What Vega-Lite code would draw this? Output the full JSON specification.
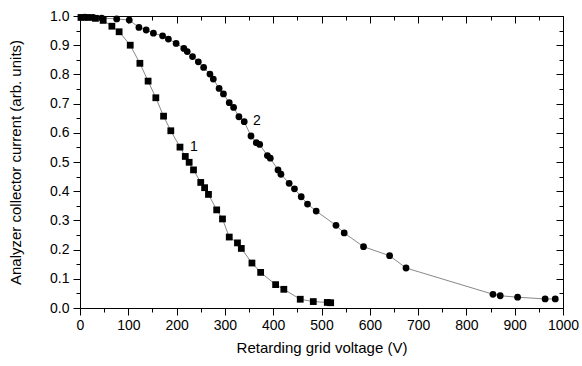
{
  "$schema": "https://vega.github.io/schema/vega-lite/v6.json",
  "autosize": "none",
  "width": 483,
  "height": 292,
  "padding": {"left": 80, "top": 16, "right": 19, "bottom": 58},
  "background": "white",
  "config": {
    "view": {"stroke": null},
    "font": "Liberation Sans",
    "axis": {"grid": false, "domainColor": "black", "tickColor": "black", "labelColor": "black", "titleColor": "black", "labelFont": "Liberation Sans", "titleFont": "Liberation Sans", "labelFontSize": 14, "titleFontSize": 15, "titleFontWeight": "normal", "labelFlush": false, "labelOverlap": false, "domainWidth": 1, "tickWidth": 1}
  },
  "datasets": {
    "curves": [
      {"series": "1", "V": 2, "I": 0.995},
      {"series": "1", "V": 17, "I": 0.995},
      {"series": "1", "V": 32, "I": 0.992},
      {"series": "1", "V": 48, "I": 0.985},
      {"series": "1", "V": 66, "I": 0.965},
      {"series": "1", "V": 81, "I": 0.946},
      {"series": "1", "V": 104, "I": 0.9},
      {"series": "1", "V": 124, "I": 0.838},
      {"series": "1", "V": 141, "I": 0.777},
      {"series": "1", "V": 157, "I": 0.72},
      {"series": "1", "V": 173, "I": 0.657},
      {"series": "1", "V": 188, "I": 0.607},
      {"series": "1", "V": 207, "I": 0.551},
      {"series": "1", "V": 218, "I": 0.519},
      {"series": "1", "V": 226, "I": 0.499},
      {"series": "1", "V": 235, "I": 0.473},
      {"series": "1", "V": 250, "I": 0.43},
      {"series": "1", "V": 258, "I": 0.412},
      {"series": "1", "V": 266, "I": 0.389},
      {"series": "1", "V": 283, "I": 0.336},
      {"series": "1", "V": 295, "I": 0.305},
      {"series": "1", "V": 309, "I": 0.243},
      {"series": "1", "V": 326, "I": 0.223},
      {"series": "1", "V": 334, "I": 0.204},
      {"series": "1", "V": 356, "I": 0.154},
      {"series": "1", "V": 374, "I": 0.122},
      {"series": "1", "V": 405, "I": 0.08},
      {"series": "1", "V": 422, "I": 0.064},
      {"series": "1", "V": 456, "I": 0.03},
      {"series": "1", "V": 483, "I": 0.022},
      {"series": "1", "V": 512, "I": 0.019},
      {"series": "1", "V": 519, "I": 0.018},
      {"series": "2", "V": 10, "I": 0.996},
      {"series": "2", "V": 27, "I": 0.995},
      {"series": "2", "V": 45, "I": 0.993},
      {"series": "2", "V": 76, "I": 0.99},
      {"series": "2", "V": 102, "I": 0.986},
      {"series": "2", "V": 122, "I": 0.961},
      {"series": "2", "V": 137, "I": 0.952},
      {"series": "2", "V": 152, "I": 0.941},
      {"series": "2", "V": 171, "I": 0.932},
      {"series": "2", "V": 183, "I": 0.921},
      {"series": "2", "V": 199, "I": 0.906},
      {"series": "2", "V": 215, "I": 0.889},
      {"series": "2", "V": 222, "I": 0.878},
      {"series": "2", "V": 233, "I": 0.861},
      {"series": "2", "V": 245, "I": 0.843},
      {"series": "2", "V": 256, "I": 0.824},
      {"series": "2", "V": 269, "I": 0.801},
      {"series": "2", "V": 276, "I": 0.784},
      {"series": "2", "V": 288, "I": 0.752},
      {"series": "2", "V": 297, "I": 0.733},
      {"series": "2", "V": 309, "I": 0.703},
      {"series": "2", "V": 318, "I": 0.687},
      {"series": "2", "V": 329, "I": 0.655},
      {"series": "2", "V": 340, "I": 0.638},
      {"series": "2", "V": 354, "I": 0.589},
      {"series": "2", "V": 365, "I": 0.566},
      {"series": "2", "V": 372, "I": 0.56},
      {"series": "2", "V": 388, "I": 0.522},
      {"series": "2", "V": 394, "I": 0.513},
      {"series": "2", "V": 410, "I": 0.473},
      {"series": "2", "V": 416, "I": 0.458},
      {"series": "2", "V": 433, "I": 0.427},
      {"series": "2", "V": 444, "I": 0.408},
      {"series": "2", "V": 458, "I": 0.381},
      {"series": "2", "V": 471, "I": 0.356},
      {"series": "2", "V": 489, "I": 0.332},
      {"series": "2", "V": 530, "I": 0.283},
      {"series": "2", "V": 547, "I": 0.257},
      {"series": "2", "V": 587, "I": 0.21},
      {"series": "2", "V": 641, "I": 0.179},
      {"series": "2", "V": 675, "I": 0.137},
      {"series": "2", "V": 855, "I": 0.047},
      {"series": "2", "V": 870, "I": 0.042},
      {"series": "2", "V": 906, "I": 0.037},
      {"series": "2", "V": 963, "I": 0.031},
      {"series": "2", "V": 984, "I": 0.031}
    ],
    "labels": [
      {"label": "1", "V": 236, "I": 0.552},
      {"label": "2", "V": 366, "I": 0.64}
    ]
  },
  "resolve": {"scale": {"x": "independent", "y": "independent"}, "axis": {"x": "independent", "y": "independent"}},
  "layer": [
    {
      "data": {"name": "curves"},
      "mark": {"type": "line", "color": "#555555", "strokeWidth": 0.7},
      "encoding": {
        "x": {"field": "V", "type": "quantitative", "scale": {"domain": [0, 1000], "nice": false, "zero": false},
          "axis": {"orient": "bottom", "title": "Retarding grid voltage (V)", "format": "d", "values": [0,50,100,150,200,250,300,350,400,450,500,550,600,650,700,750,800,850,900,950,1000],
            "labelExpr": "datum.value % 100 === 0 ? datum.label : ''", "tickSize": {"condition": {"test": "datum.value % 100 !== 0", "value": 4}, "value": 7}, "labelPadding": 3, "titlePadding": 8}},
        "y": {"field": "I", "type": "quantitative", "scale": {"domain": [0, 1], "nice": false, "zero": false},
          "axis": {"orient": "left", "title": "Analyzer collector current (arb. units)", "format": ".1f", "values": [0,0.05,0.1,0.15,0.2,0.25,0.3,0.35,0.4,0.45,0.5,0.55,0.6,0.65,0.7,0.75,0.8,0.85,0.9,0.95,1.0],
            "labelExpr": "round(datum.value*100) % 10 === 0 ? datum.label : ''", "tickSize": {"condition": {"test": "round(datum.value*100) % 10 !== 0", "value": 4}, "value": 7}, "labelPadding": 4, "titlePadding": 26}},
        "detail": {"field": "series", "type": "nominal"}
      }
    },
    {
      "data": {"name": "curves"},
      "mark": {"type": "point", "filled": true, "color": "black", "opacity": 1, "size": 46},
      "encoding": {
        "x": {"field": "V", "type": "quantitative", "scale": {"domain": [0, 1000], "nice": false, "zero": false},
          "axis": {"orient": "top", "title": null, "labels": false, "values": [0,50,100,150,200,250,300,350,400,450,500,550,600,650,700,750,800,850,900,950,1000],
            "tickSize": {"condition": {"test": "datum.value % 100 !== 0", "value": -4}, "value": -7}}},
        "y": {"field": "I", "type": "quantitative", "scale": {"domain": [0, 1], "nice": false, "zero": false},
          "axis": {"orient": "right", "title": null, "labels": false, "values": [0,0.05,0.1,0.15,0.2,0.25,0.3,0.35,0.4,0.45,0.5,0.55,0.6,0.65,0.7,0.75,0.8,0.85,0.9,0.95,1.0],
            "tickSize": {"condition": {"test": "round(datum.value*100) % 10 !== 0", "value": -4}, "value": -7}}},
        "shape": {"field": "series", "type": "nominal", "scale": {"domain": ["1", "2"], "range": ["square", "circle"]}, "legend": null}
      }
    },
    {
      "data": {"name": "labels"},
      "mark": {"type": "text", "font": "Liberation Sans", "fontSize": 14, "fill": "black", "align": "center", "baseline": "middle"},
      "encoding": {
        "x": {"field": "V", "type": "quantitative", "scale": {"domain": [0, 1000], "nice": false, "zero": false}, "axis": null},
        "y": {"field": "I", "type": "quantitative", "scale": {"domain": [0, 1], "nice": false, "zero": false}, "axis": null},
        "text": {"field": "label", "type": "nominal"}
      }
    }
  ]
}
